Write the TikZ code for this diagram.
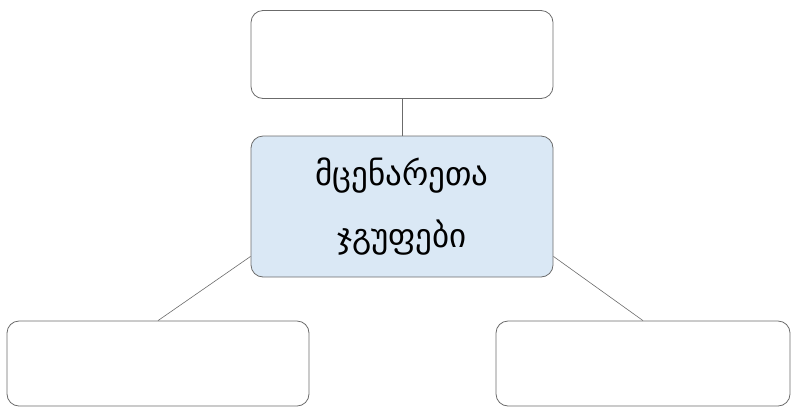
\documentclass[tikz,border=0pt]{standalone}
\usepackage{fontspec}
\newfontfamily\geofont{DejaVu Sans}
\usetikzlibrary{calc}
\definecolor{boxline}{HTML}{6B6B6B}
\definecolor{boxfill}{HTML}{DAE8F5}

\begin{document}
\begin{tikzpicture}[x=1pt,y=-1pt, line width=0.8pt,
empty/.style ={rectangle, draw=boxline, fill=white, rounded corners=12pt, minimum height=88pt, minimum width=302pt, inner sep=0pt},
grp/.style ={rectangle, draw=boxline, fill=boxfill, rounded corners=12pt, align=center, minimum height=141pt, minimum width=302pt, inner sep=0pt, font=\geofont\fontsize{33}{62}\selectfont}]

\useasboundingbox (0,0) rectangle (791,408);

\draw (402,54.5) node[empty] (Top) {};  
\draw (402,206.5) node[grp] (Grp) {მცენარეთა\\ჯგუფები};  
\draw (158,363.5) node[empty, minimum height=85pt] (Left) {};  
\draw (643,363.5) node[empty, minimum height=85pt, minimum width=294pt] (Right) {};  

\coordinate (GL) at ($(Grp.south west)+(0,-21)$);
\coordinate (GR) at ($(Grp.south east)+(0,-21)$);

\draw[boxline, line width=0.6pt] (Top)--(Grp);
\draw[boxline, line width=0.6pt] (GL)--(Left.north);
\draw[boxline, line width=0.6pt] (GR)--(Right.north);

\end{tikzpicture}
\end{document}
